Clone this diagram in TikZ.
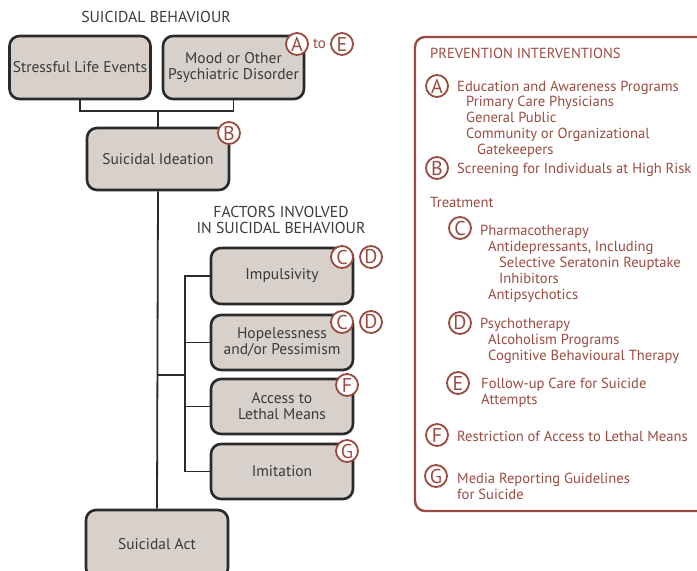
\documentclass[tikz,border=0pt]{standalone}
\usepackage{fontspec}
\setmainfont{PT Sans}
\definecolor{boxfill}{HTML}{D8D0CA}
\definecolor{boxline}{HTML}{2A2A2A}
\definecolor{brn}{HTML}{9A4B40}
\definecolor{txt}{HTML}{3A3A3A}
\tikzset{
  fbox/.style={draw=boxline, line width=2.6pt, fill=boxfill, rounded corners=10pt, text=txt, align=center, font=\fontsize{15.5}{16}\selectfont, inner sep=0pt},
  conn/.style={draw=boxline, line width=1.8pt},
  let/.style={circle, draw=brn, fill=white, line width=1.8pt, minimum size=22pt, inner sep=0pt, text=brn, font=\fontsize{20}{20}\selectfont},
  rtxt/.style={anchor=west, text=brn, font=\fontsize{14.6}{16}\selectfont, inner sep=0pt, text height=8pt, text depth=0pt, yshift=-1pt},
  ttl/.style={text=txt, align=center, font=\fontsize{15.8}{16}\selectfont, inner sep=0pt}
}
\begin{document}
\begin{tikzpicture}[x=1pt,y=-1pt]
\useasboundingbox (0,0) rectangle (697,571);
% titles
\node[ttl] (t1) at (156,17) {SUICIDAL BEHAVIOUR};
\node[ttl] (t2) at (281,220) {FACTORS INVOLVED\\IN SUICIDAL BEHAVIOUR};
% main boxes
\node[fbox, minimum width=141pt, minimum height=63pt] (sle) at (80,67.5) {Stressful Life Events};
\node[fbox, minimum width=141pt, minimum height=63pt] (mood) at (233.5,67.5) {Mood or Other\\Psychiatric Disorder};
\node[fbox, minimum width=142pt, minimum height=62pt] (ide) at (158,159) {\raisebox{-2pt}{Suicidal Ideation}};
\node[fbox, minimum width=142pt, minimum height=68pt] (act) at (157,544) {Suicidal Act};
\coordinate (j1) at (158,111);
\coordinate (j2) at (158,375);
\coordinate (j3) at (185,375);
% factor boxes
\node[fbox, minimum width=142pt, minimum height=56pt] (imp) at (282,276) {\raisebox{-2pt}{Impulsivity}};
\node[fbox, minimum width=142pt, minimum height=55pt] (hop) at (282,342.5) {Hopelessness\\and/or Pessimism};
\node[fbox, minimum width=142pt, minimum height=55pt] (acc) at (282,406.5) {Access to\\Lethal Means};
\node[fbox, minimum width=142pt, minimum height=55pt] (imi) at (282,471.5) {\raisebox{-2pt}{Imitation}};
% connectors
\draw[conn] (sle.south) |- (j1) -| (mood.south);
\draw[conn] (j1) -- (ide.north);
\draw[conn] (ide.south) -- (act.north);
\draw[conn] (j2) -- (j3);
\draw[conn] (imp.west) -| (j3);
\draw[conn] (imi.west) -| (j3);
\draw[conn] (hop.west) -- (hop.west -| j3);
\draw[conn] (acc.west) -- (acc.west -| j3);
% letter circles on diagram
\node[let] (la) at (297,44) {A};
\node[text=brn, font=\fontsize{15}{15}\selectfont, inner sep=0pt] (to) at (319.5,44) {to};
\node[let] (le) at (342,44) {E};
\node[let] (lb) at (229,133) {B};
\node[let] (lc1) at (342,257) {C};
\node[let] (ld1) at (371,257) {D};
\node[let] (lc2) at (342,322) {C};
\node[let] (ld2) at (371,322) {D};
\node[let] (lf) at (347,385) {F};
\node[let] (lg) at (347,451) {G};
% right panel
\draw[draw=brn, line width=2.4pt, rounded corners=10pt] (415,37) rectangle (720,511);
\node[rtxt] (pi) at (430,53) {PREVENTION INTERVENTIONS};
\node[let] (ra) at (437,86) {A};
\node[rtxt] (ra1) at (457,86) {Education and Awareness Programs};
\node[rtxt] (ra2) at (466,101) {Primary Care Physicians};
\node[rtxt] (ra3) at (466,117) {General Public};
\node[rtxt] (ra4) at (466,133) {Community or Organizational};
\node[rtxt] (ra5) at (477,149) {Gatekeepers};
\node[let] (rb) at (437,168) {B};
\node[rtxt] (rb1) at (457,168) {Screening for Individuals at High Risk};
\node[rtxt] (tr) at (430,202) {Treatment};
\node[let] (rc) at (460,228) {C};
\node[rtxt] (rc1) at (480,230) {Pharmacotherapy};
\node[rtxt] (rc2) at (488,246) {Antidepressants, Including};
\node[rtxt] (rc3) at (499,262) {Selective Seratonin Reuptake};
\node[rtxt] (rc4) at (499,278) {Inhibitors};
\node[rtxt] (rc5) at (488,294) {Antipsychotics};
\node[let] (rd) at (460,323) {D};
\node[rtxt] (rd1) at (480,323) {Psychotherapy};
\node[rtxt] (rd2) at (488,339) {Alcoholism Programs};
\node[rtxt] (rd3) at (488,355) {Cognitive Behavioural Therapy};
\node[let] (re) at (458,383) {E};
\node[rtxt] (re1) at (481,383) {Follow-up Care for Suicide};
\node[rtxt] (re2) at (481,399) {Attempts};
\node[let] (rf) at (437,435) {F};
\node[rtxt] (rf1) at (457,436) {Restriction of Access to Lethal Means};
\node[let] (rg) at (436,476) {G};
\node[rtxt] (rg1) at (457,478) {Media Reporting Guidelines};
\node[rtxt] (rg2) at (457,494) {for Suicide};
\end{tikzpicture}
\end{document}
